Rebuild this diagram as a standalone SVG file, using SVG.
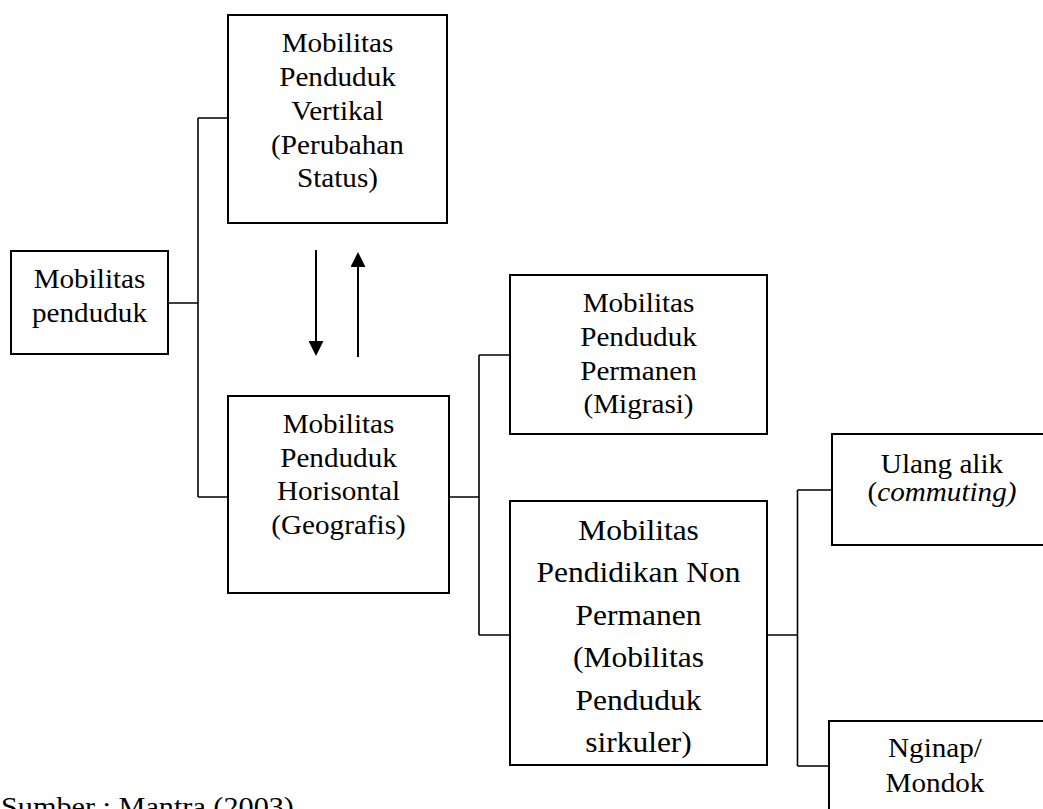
<svg xmlns="http://www.w3.org/2000/svg" width="1043" height="809" viewBox="0 0 1043 809">
  <style>
    .box { fill: #ffffff; stroke: #000000; stroke-width: 2; }
    .conn { fill: none; stroke: #000000; stroke-width: 1.6; }
    .arr { fill: none; stroke: #000000; stroke-width: 2; }
    .t { font-family: "Liberation Serif", "Times New Roman", serif; font-size: 27px; fill: #000000; text-anchor: middle; }
    .tb { font-family: "Liberation Serif", "Times New Roman", serif; font-size: 30px; fill: #000000; text-anchor: middle; }
    .src { font-family: "Liberation Serif", "Times New Roman", serif; font-size: 28px; fill: #000000; }
  </style>
  <defs>
    <marker id="head" viewBox="0 0 15 15" markerWidth="15" markerHeight="15" refX="0" refY="7.5" orient="auto" markerUnits="userSpaceOnUse">
      <path d="M0,0 L15,7.5 L0,15 Z" fill="#000000"/>
    </marker>
  </defs>
  <rect x="0" y="0" width="1043" height="809" fill="#ffffff"/>

  <g id="connectors">
    <path class="conn" d="M168,303 H198 M198,118 V497 M198,118 H228 M198,497 H228"/>
    <path class="conn" d="M449,497 H479 M479,355 V635 M479,355 H510 M479,635 H510"/>
    <path class="conn" d="M767,635 H797.5 M797.5,490 V766 M797.5,490 H832 M797.5,766 H829"/>
    <line class="arr" x1="316" y1="250" x2="316" y2="341" marker-end="url(#head)"/>
    <line class="arr" x1="358" y1="357" x2="358" y2="267" marker-end="url(#head)"/>
  </g>

  <g id="node-mobilitas-penduduk">
    <rect class="box" x="11" y="251" width="157" height="103"/>
    <g transform="translate(89.5 0) scale(1.08 1)">
      <text class="t" x="0" y="288.5">Mobilitas</text>
      <text class="t" x="0" y="322">penduduk</text>
    </g>
  </g>

  <g id="node-vertikal">
    <rect class="box" x="228" y="15" width="219" height="208"/>
    <g transform="translate(337.5 0) scale(1.08 1)">
      <text class="t" x="0" y="52">Mobilitas</text>
      <text class="t" x="0" y="86">Penduduk</text>
      <text class="t" x="0" y="120">Vertikal</text>
      <text class="t" x="0" y="154">(Perubahan</text>
      <text class="t" x="0" y="187">Status)</text>
    </g>
  </g>

  <g id="node-horisontal">
    <rect class="box" x="228" y="396" width="221" height="197"/>
    <g transform="translate(338.5 0) scale(1.08 1)">
      <text class="t" x="0" y="433.5">Mobilitas</text>
      <text class="t" x="0" y="467">Penduduk</text>
      <text class="t" x="0" y="500.5">Horisontal</text>
      <text class="t" x="0" y="534">(Geografis)</text>
    </g>
  </g>

  <g id="node-permanen">
    <rect class="box" x="510" y="275" width="257" height="159"/>
    <g transform="translate(638.5 0) scale(1.08 1)">
      <text class="t" x="0" y="312.5">Mobilitas</text>
      <text class="t" x="0" y="346">Penduduk</text>
      <text class="t" x="0" y="380">Permanen</text>
      <text class="t" x="0" y="413">(Migrasi)</text>
    </g>
  </g>

  <g id="node-non-permanen">
    <rect class="box" x="510" y="501" width="257" height="264"/>
    <g transform="translate(638.5 0) scale(1.05 1)">
      <text class="tb" x="0" y="540">Mobilitas</text>
      <text class="tb" x="0" y="582.5">Pendidikan Non</text>
      <text class="tb" x="0" y="625">Permanen</text>
      <text class="tb" x="0" y="667.5">(Mobilitas</text>
      <text class="tb" x="0" y="710">Penduduk</text>
      <text class="tb" x="0" y="752.5">sirkuler)</text>
    </g>
  </g>

  <g id="node-ulang-alik">
    <rect class="box" x="832" y="434" width="230" height="111"/>
    <g transform="translate(942 0) scale(1.08 1)">
      <text class="t" x="0" y="473">Ulang alik</text>
      <text class="t" x="0" y="501">(<tspan font-style="italic">commuting)</tspan></text>
    </g>
  </g>

  <g id="node-nginap">
    <rect class="box" x="829" y="721" width="230" height="120"/>
    <g transform="translate(935 0) scale(1.08 1)">
      <text class="t" x="0" y="757">Nginap/</text>
      <text class="t" x="0" y="792">Mondok</text>
    </g>
  </g>

  <g id="source">
    <g transform="translate(1 0) scale(1.08 1)">
      <text class="src" x="0" y="816">Sumber : Mantra (2003)</text>
    </g>
  </g>
</svg>
